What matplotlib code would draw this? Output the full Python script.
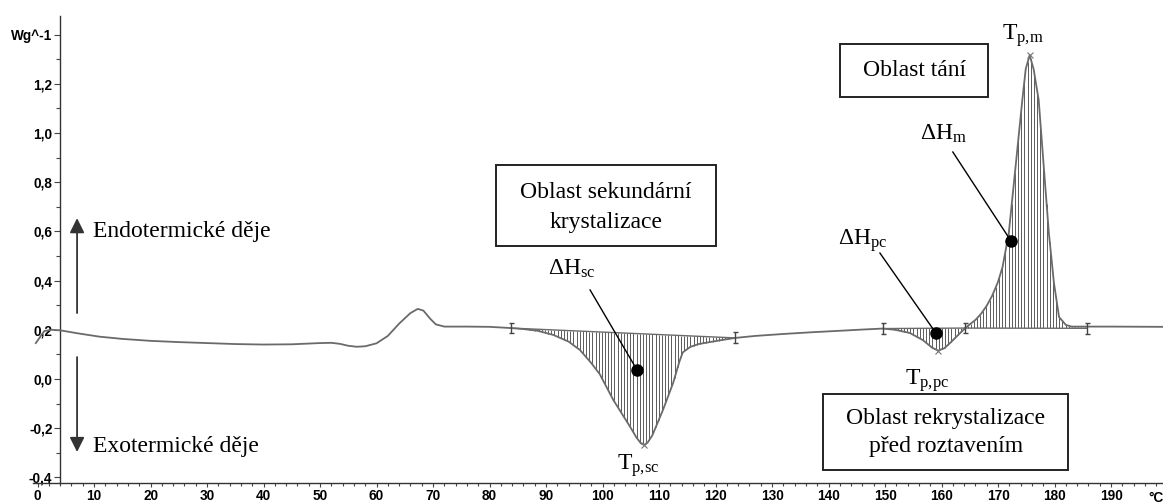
import numpy as np
import matplotlib
matplotlib.use("Agg")
import matplotlib.pyplot as plt
from matplotlib.patches import Rectangle
from matplotlib.ticker import FixedLocator, MultipleLocator
from matplotlib.font_manager import FontProperties

# DSC curve: temperature (°C) and heat flow (W/g)
temperature = [-0.3, 1.2, 2.5, 4.0, 7, 11, 15, 20, 25, 30, 35, 40, 45, 50, 52, 53.5, 55,
               56.5, 58, 60, 62, 64, 66, 67.3, 68.3, 69.5, 70.5, 72, 76, 80, 83.8, 86,
               88.5, 91.3, 94, 96, 98, 99.5, 101.9, 104.9, 106.0, 106.8, 107.4, 108.0,
               108.8, 110.7, 112.5, 113.6, 114.2, 115.5, 117, 119, 121, 123.5, 127, 132,
               137, 142, 146, 149.6, 151.8, 154.4, 156.7, 158.3, 159.4, 160.5, 161.5,
               163.3, 164.2, 165.0, 166.0, 167.0, 168.0, 169.0, 170.0, 170.8, 171.9,
               173.1, 174.3, 174.9, 175.6, 176.3, 177.2, 178.1, 179.0, 179.9, 180.8,
               182.0, 183.0, 190, 199.2]
heat_flow = [0.146, 0.195, 0.200, 0.198, 0.186, 0.172, 0.163, 0.155, 0.150, 0.146, 0.142,
             0.140, 0.141, 0.146, 0.147, 0.143, 0.135, 0.131, 0.133, 0.145, 0.175, 0.225,
             0.268, 0.285, 0.278, 0.245, 0.222, 0.213, 0.213, 0.212, 0.207, 0.203, 0.196,
             0.179, 0.152, 0.118, 0.065, 0.020, -0.085, -0.195, -0.238, -0.262, -0.268,
             -0.258, -0.230, -0.126, -0.016, 0.070, 0.108, 0.130, 0.142, 0.150, 0.158,
             0.167, 0.175, 0.183, 0.190, 0.196, 0.201, 0.205, 0.200, 0.187, 0.158, 0.128,
             0.115, 0.125, 0.146, 0.187, 0.207, 0.222, 0.240, 0.265, 0.298, 0.340, 0.395,
             0.455, 0.592, 0.862, 1.134, 1.26, 1.317, 1.26, 1.134, 0.862, 0.593, 0.390,
             0.252, 0.220, 0.213, 0.213, 0.212]

# Integration limits (start, end) with baseline values for each evaluated effect
sc_limits = [83.8, 123.5]
sc_baseline = [0.207, 0.167]
pc_limits = [149.6, 164.2]
pc_baseline = [0.205, 0.207]
m_limits = [164.2, 185.7]
m_baseline = [0.207, 0.206]

# Peak temperatures
peak_T = [107.4, 159.4, 175.6]

# Points marking the integrated areas (ΔH labels)
dH_dot_T = [106.1, 159.0, 172.3]
dH_dot_v = [0.037, 0.187, 0.561]

# Axis ticks
x_major = list(range(0, 200, 10))
x_labels = [str(t) for t in x_major]
y_major = [-0.4, -0.2, 0.0, 0.2, 0.4, 0.6, 0.8, 1.0, 1.2, 1.4]
y_labels = ["-0,4", "-0,2", "0,0", "0,2", "0,4", "0,6", "0,8", "1,0", "1,2", "Wg^-1"]

serif = "Liberation Serif"
plt.rcParams["mathtext.fontset"] = "custom"
plt.rcParams["mathtext.rm"] = serif
plt.rcParams["mathtext.it"] = serif + ":italic"

W, H = 1163, 503
fig = plt.figure(figsize=(W / 100, H / 100), dpi=100)
ax = fig.add_axes([33 / W, 20 / H, 1 - 33 / W, (487 - 20) / H])
ax.set_xlim(-0.8, 199.2)
ax.set_ylim(-0.423, 1.476)

T = np.array(temperature)
V = np.array(heat_flow)
curve_col = "#6a6a6a"
hatch_col = "#5a5a5a"


def hatch_area(limits, base, sign):
    xs = np.arange(limits[0] + 0.4, limits[1], 0.56)
    bl = np.interp(xs, limits, base)
    cv = np.interp(xs, T, V)
    keep = (cv - bl) * sign > 0.002
    ax.vlines(xs[keep], bl[keep], cv[keep], color=hatch_col, lw=0.7, zorder=2)
    ax.plot(limits, base, color=curve_col, lw=1.0, zorder=2)


hatch_area(sc_limits, sc_baseline, -1)
hatch_area(pc_limits, pc_baseline, -1)
hatch_area(m_limits, m_baseline, 1)

ax.plot(T, V, color=curve_col, lw=1.3, zorder=3, clip_on=False)

# integration limit markers
lim_T = [sc_limits[0], sc_limits[1], pc_limits[0], pc_limits[1], m_limits[1]]
lim_v = [sc_baseline[0], sc_baseline[1], pc_baseline[0], pc_baseline[1], m_baseline[1]]
ax.errorbar(lim_T, lim_v, yerr=0.022, fmt="none", ecolor="#444444", elinewidth=1.0,
            capsize=1.8, capthick=1.0, zorder=4)

# peak markers
ax.plot(peak_T, np.interp(peak_T, T, V), "x", color="#777777", ms=4, mew=0.8, zorder=4)

# ΔH dots and leader lines
leader_start = [(97.8, 0.362), (149.1, 0.512), (162.0, 0.923)]
for (x0, y0), x1, y1 in zip(leader_start, dH_dot_T, dH_dot_v):
    ax.plot([x0, x1], [y0, y1], color="black", lw=1.0, zorder=5)
ax.plot(dH_dot_T, dH_dot_v, "o", color="black", ms=8, zorder=6)

fs = 17
ax.text(90.4, 0.423, "$\\mathrm{ΔH}_{\\mathrm{sc}}$", fontsize=fs, va="baseline", ha="left")
ax.text(141.7, 0.545, "$\\mathrm{ΔH}_{\\mathrm{pc}}$", fontsize=fs, va="baseline", ha="left")
ax.text(156.2, 0.972, "$\\mathrm{ΔH}_{\\mathrm{m}}$", fontsize=fs, va="baseline", ha="left")
ax.text(102.6, -0.37, "$\\mathrm{T}_{\\mathrm{p{,}sc}}$", fontsize=fs, va="baseline", ha="left")
ax.text(153.5, -0.024, "$\\mathrm{T}_{\\mathrm{p{,}pc}}$", fontsize=fs, va="baseline", ha="left")
ax.text(170.7, 1.378, "$\\mathrm{T}_{\\mathrm{p{,}m}}$", fontsize=fs, va="baseline", ha="left")

# Region boxes
boxes = [
    ((81.2, 0.541), 120.1 - 81.2, 0.870 - 0.541,
     [("Oblast sekundární", 100.6, 0.760), ("krystalizace", 100.6, 0.638)]),
    ((142.0, 1.146), 168.2 - 142.0, 1.362 - 1.146,
     [("Oblast tání", 155.2, 1.256)]),
    ((139.0, -0.370), 182.4 - 139.0, -0.061 + 0.370,
     [("Oblast rekrystalizace", 160.8, -0.159), ("před roztavením", 160.8, -0.276)]),
]
for xy, w, h, lines in boxes:
    ax.add_patch(Rectangle(xy, w, h, fill=False, edgecolor="#222222", lw=1.4,
                           zorder=5, clip_on=False))
    for s, x, y in lines:
        ax.text(x, y, s, fontsize=fs, family=serif, ha="center", va="center")

# Endo / exo direction arrows
arrow_kw = dict(arrowstyle="-|>", color="#333333", lw=1.3, mutation_scale=22,
                shrinkA=0, shrinkB=0)
ax.annotate("", xy=(7.0, 0.654), xytext=(7.0, 0.268), arrowprops=arrow_kw)
ax.annotate("", xy=(7.0, -0.297), xytext=(7.0, 0.089), arrowprops=arrow_kw)
ax.text(9.8, 0.598, "Endotermické děje", fontsize=fs, family=serif, va="center", ha="left")
ax.text(9.8, -0.276, "Exotermické děje", fontsize=fs, family=serif, va="center", ha="left")

# Axes styling
for s in ("top", "right"):
    ax.spines[s].set_visible(False)
ax.spines["left"].set_position(("data", 4.0))
ax.spines["left"].set_bounds(-0.423, 1.476)
for s in ("left", "bottom"):
    ax.spines[s].set_color("#333333")
    ax.spines[s].set_linewidth(1.0)

ax.xaxis.set_major_locator(FixedLocator(x_major))
ax.set_xticklabels(x_labels)
ax.xaxis.set_minor_locator(MultipleLocator(2))
ax.yaxis.set_major_locator(FixedLocator(y_major))
ax.set_yticklabels(y_labels)
ax.yaxis.set_minor_locator(MultipleLocator(0.1))

tick_fp = FontProperties(family="Liberation Sans", weight="bold", size=9.8)
for lab in ax.get_xticklabels() + ax.get_yticklabels():
    lab.set_fontproperties(tick_fp)
ax.tick_params(axis="both", which="both", color="#444444", width=0.8, direction="out")
ax.tick_params(axis="x", which="major", length=3, pad=1.5)
ax.tick_params(axis="x", which="minor", length=2.5)
ax.tick_params(axis="y", which="major", length=4, pad=1.5)
ax.tick_params(axis="y", which="minor", length=3)
ax.annotate("°C", xy=(197.9, 0), xycoords=("data", "axes fraction"),
            xytext=(0, -5.5), textcoords="offset points", ha="center", va="top",
            fontproperties=tick_fp)

fig.savefig("out.png", dpi=100)
